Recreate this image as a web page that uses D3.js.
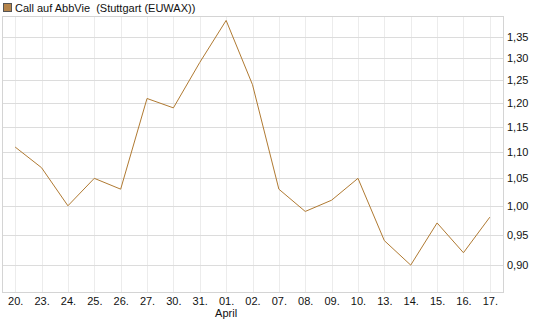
<html>
    <head>
        <style>
        body {
            margin: 0;
            background: white;
            font-family: "Liberation Sans", Arial, sans-serif;
        }
        .tick text {
            font-family: "Liberation Sans", Arial, sans-serif;
            font-size: 11px;
            fill: #111;
        }
        .domain {
            display: none;
        }
        .title {
            white-space: pre;
        }
        </style>
    </head>
    <body>
        <div id="chart"></div>
        <script src="https://d3js.org/d3.v7.min.js"></script>
        <script>

            let days = ["20.", "23.", "24.", "25.", "26.", "27.", "30.", "31.", "01.", "02.",
                        "07.", "08.", "09.", "10.", "13.", "14.", "15.", "16.", "17."]
            let prices = [1.11, 1.07, 1.00, 1.05, 1.03, 1.21, 1.19, 1.29, 1.39, 1.24,
                          1.03, 0.99, 1.01, 1.05, 0.94, 0.90, 0.97, 0.92, 0.98]
            let yTicks = [0.90, 0.95, 1.00, 1.05, 1.10, 1.15, 1.20, 1.25, 1.30, 1.35]
            let monthLabels = [{day: "01.", text: "April"}]
            let title = "Call auf AbbVie  (Stuttgart (EUWAX))"

            let width = 545
            let height = 327
            let margin = {top: 16, right: 42, bottom: 35, left: 2}
            let lineColor = "#b07a32"

            let svg = d3.select("#chart")
                .append("svg")
                .attr("width", width)
                .attr("height", height)

            let x = d3.scalePoint()
                .domain(days)
                .range([margin.left, width - margin.right])
                .padding(0.5)

            let y = d3.scaleLog()
                .domain([0.858, 1.401])
                .range([height - margin.bottom, margin.top])

            // vertical grid
            svg.append("g")
                .selectAll("line")
                .data(days)
                .join("line")
                .attr("x1", d => Math.round(x(d)) + 0.5)
                .attr("x2", d => Math.round(x(d)) + 0.5)
                .attr("y1", margin.top)
                .attr("y2", height - margin.bottom)
                .attr("stroke", "#ececec")

            // horizontal grid
            svg.append("g")
                .selectAll("line")
                .data(yTicks)
                .join("line")
                .attr("x1", margin.left)
                .attr("x2", width - margin.right)
                .attr("y1", d => Math.round(y(d)) + 0.5)
                .attr("y2", d => Math.round(y(d)) + 0.5)
                .attr("stroke", "#dcdcdc")

            // frame
            svg.append("rect")
                .attr("x", margin.left + 0.5)
                .attr("y", margin.top + 0.5)
                .attr("width", width - margin.right - margin.left)
                .attr("height", height - margin.bottom - margin.top)
                .attr("fill", "none")
                .attr("stroke", "#d4d4d4")

            let yAxis = d3.axisRight(y)
                .tickValues(yTicks)
                .tickSize(0)
                .tickPadding(4)
                .tickFormat(d => d3.format(".2f")(d).replace(".", ","))

            svg.append("g")
                .attr("class", "y axis")
                .attr("transform", `translate(${width - margin.right}, 0)`)
                .call(yAxis)

            let xAxis = d3.axisBottom(x)
                .tickSize(0)
                .tickPadding(5)

            svg.append("g")
                .attr("class", "x axis")
                .attr("transform", `translate(0, ${height - margin.bottom})`)
                .call(xAxis)

            svg.append("g")
                .selectAll("text")
                .data(monthLabels)
                .join("text")
                .attr("x", d => x(d.day))
                .attr("y", height - margin.bottom + 25)
                .attr("text-anchor", "middle")
                .style("font-size", "11px")
                .style("fill", "#111")
                .text(d => d.text)

            let line = d3.line()
                .x((d, i) => x(days[i]))
                .y(d => y(d))

            svg.append("path")
                .datum(prices)
                .attr("d", line)
                .attr("fill", "none")
                .attr("stroke", lineColor)
                .attr("stroke-width", 1)

            // legend
            svg.append("rect")
                .attr("x", 3.5)
                .attr("y", 3.5)
                .attr("width", 8)
                .attr("height", 8)
                .attr("fill", "#b5844a")
                .attr("stroke", "#555")

            svg.append("text")
                .attr("class", "title")
                .attr("x", 15)
                .attr("y", 11.5)
                .style("font-size", "11px")
                .style("fill", "#111")
                .text(title)

        </script>
    </body>
</html>
